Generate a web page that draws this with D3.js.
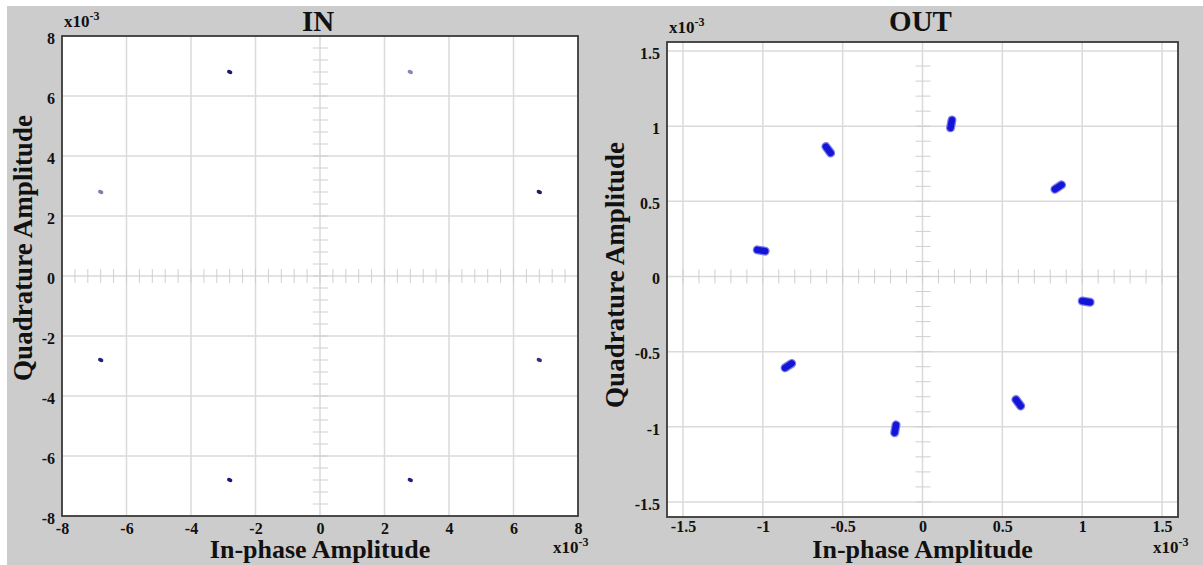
<!DOCTYPE html>
<html>
<head>
<meta charset="utf-8">
<script src="https://cdn.jsdelivr.net/npm/d3@7"></script>
<style>
    body { margin: 0; background: #ffffff; }
    text { font-family: "Liberation Serif", "Times New Roman", serif; font-weight: bold; fill: #111; }
</style>
</head>
<body>
<div id="chart"></div>
<script>
// constellation data, units of 1e-3
var inI = [-2.8, 2.8, -6.8, 6.8, -6.8, 6.8, -2.8, 2.8];
var inQ = [6.8, 6.8, 2.8, 2.8, -2.8, -2.8, -6.8, -6.8];
var inColors = ["#1a1a70", "#8a86b4", "#7f7fb0", "#1a1a70", "#22227a", "#303080", "#1a1a70", "#22227a"];

var outI = [0.18, 0.85, 1.025, 0.6, -0.17, -0.84, -1.01, -0.59];
var outQ = [1.015, 0.595, -0.167, -0.84, -1.013, -0.593, 0.173, 0.843];

var inTicks = [-8, -6, -4, -2, 0, 2, 4, 6, 8];
var outTicks = [-1.5, -1, -0.5, 0, 0.5, 1, 1.5];

var width = 1203, height = 565;

var svg = d3.select("#chart").append("svg")
    .attr("width", width)
    .attr("height", height);

svg.append("rect")
    .attr("x", 7).attr("y", 6)
    .attr("width", width - 7).attr("height", height - 6)
    .attr("fill", "#cccccc");

function drawPanel(cfg) {
    var x = d3.scaleLinear().domain(cfg.xDom).range([cfg.x0, cfg.x1]);
    var y = d3.scaleLinear().domain(cfg.yDom).range([cfg.y1, cfg.y0]);
    var g = svg.append("g");

    g.append("rect")
        .attr("x", cfg.x0).attr("y", cfg.y0)
        .attr("width", cfg.x1 - cfg.x0).attr("height", cfg.y1 - cfg.y0)
        .attr("fill", "white");

    // grid
    var grid = cfg.ticks.filter(function(t) {
        return t > cfg.xDom[0] && t < cfg.xDom[1];
    });
    g.selectAll(".vg").data(grid).enter().append("line")
        .attr("x1", function(d) { return x(d); })
        .attr("x2", function(d) { return x(d); })
        .attr("y1", cfg.y0).attr("y2", cfg.y1)
        .attr("stroke", "#dadada").attr("stroke-width", 1.5);
    var gridY = cfg.ticks.filter(function(t) {
        return t > cfg.yDom[0] && t < cfg.yDom[1];
    });
    g.selectAll(".hg").data(gridY).enter().append("line")
        .attr("y1", function(d) { return y(d); })
        .attr("y2", function(d) { return y(d); })
        .attr("x1", cfg.x0).attr("x2", cfg.x1)
        .attr("stroke", "#dadada").attr("stroke-width", 1.5);

    // minor ticks on the zero axes
    var minorX = d3.range(Math.ceil(cfg.xDom[0] / cfg.minor) + 1, Math.floor(cfg.xDom[1] / cfg.minor))
        .map(function(k) { return k * cfg.minor; });
    var minorY = d3.range(Math.ceil(cfg.yDom[0] / cfg.minor) + 1, Math.floor(cfg.yDom[1] / cfg.minor))
        .map(function(k) { return k * cfg.minor; });
    g.selectAll(".mx").data(minorX).enter().append("line")
        .attr("x1", function(d) { return x(d); })
        .attr("x2", function(d) { return x(d); })
        .attr("y1", y(0) - 7).attr("y2", y(0) + 7)
        .attr("stroke", "#cfcfcf").attr("stroke-width", 1);
    g.selectAll(".my").data(minorY).enter().append("line")
        .attr("y1", function(d) { return y(d); })
        .attr("y2", function(d) { return y(d); })
        .attr("x1", x(0) - 7).attr("x2", x(0) + 8)
        .attr("stroke", "#cfcfcf").attr("stroke-width", 1);

    cfg.marks(g, x, y);

    g.append("rect")
        .attr("x", cfg.x0).attr("y", cfg.y0)
        .attr("width", cfg.x1 - cfg.x0).attr("height", cfg.y1 - cfg.y0)
        .attr("fill", "none")
        .attr("stroke", "#3a3a3a").attr("stroke-width", 1.8);

    // tick labels via axes
    var fmt = function(d) { return String(d); };
    var xAxis = g.append("g")
        .attr("transform", "translate(0," + cfg.y1 + ")")
        .call(d3.axisBottom(x).tickValues(cfg.ticks).tickFormat(fmt).tickSize(0).tickPadding(cfg.xPad));
    var yAxis = g.append("g")
        .attr("transform", "translate(" + cfg.x0 + ",0)")
        .call(d3.axisLeft(y).tickValues(cfg.ticks).tickFormat(fmt).tickSize(0).tickPadding(7));
    [xAxis, yAxis].forEach(function(a) {
        a.select(".domain").remove();
        a.selectAll("text")
            .style("font-family", "'Liberation Serif', serif")
            .style("font-weight", "bold")
            .style("font-size", "16px")
            .attr("fill", "#111");
    });
    yAxis.selectAll("text").attr("dy", "0.45em");

    g.append("text")
        .attr("x", (cfg.x0 + cfg.x1) / 2 - 2)
        .attr("y", 31)
        .attr("text-anchor", "middle")
        .style("font-size", "29px")
        .text(cfg.title);

    g.append("text")
        .attr("x", (cfg.x0 + cfg.x1) / 2)
        .attr("y", 558)
        .attr("text-anchor", "middle")
        .style("font-size", "26px")
        .text("In-phase Amplitude");

    g.append("text")
        .attr("transform", "translate(" + cfg.yTitleX + "," + cfg.yTitleY + ") rotate(-90)")
        .attr("text-anchor", "middle")
        .style("font-size", "27px")
        .text("Quadrature Amplitude");

    function exponent(px, py) {
        var t = g.append("text")
            .attr("x", px).attr("y", py)
            .style("font-size", "17px");
        t.append("tspan").text("x10");
        t.append("tspan").attr("dy", -7).style("font-size", "12px").text("-3");
    }
    exponent(cfg.x0 + 2, cfg.y0 - 9);
    exponent(cfg.x1 - 25, 553);
}

drawPanel({
    title: "IN",
    x0: 62, x1: 578, y0: 36, y1: 516,
    xDom: [-8, 8], yDom: [-8, 8],
    ticks: inTicks, minor: 0.4, xPad: 7,
    yTitleX: 32, yTitleY: 248,
    marks: function(g, x, y) {
        g.selectAll(".pt").data(inI).enter().append("ellipse")
            .attr("cx", function(d) { return x(d); })
            .attr("cy", function(d, i) { return y(inQ[i]); })
            .attr("rx", 2.8).attr("ry", 2)
            .attr("transform", function(d, i) {
                return "rotate(25," + x(d) + "," + y(inQ[i]) + ")";
            })
            .attr("fill", function(d, i) { return inColors[i]; });
    }
});

drawPanel({
    title: "OUT",
    x0: 667, x1: 1178, y0: 42, y1: 517,
    xDom: [-1.6, 1.6], yDom: [-1.6, 1.56],
    ticks: outTicks, minor: 0.1, xPad: 4,
    yTitleX: 624, yTitleY: 275,
    marks: function(g, x, y) {
        var cx = x(0), cy = y(0);
        var seg = function(d, i) {
            var px = x(d), py = y(outQ[i]);
            var a = Math.atan2(py - cy, px - cx);
            return [px - 4 * Math.cos(a), py - 4 * Math.sin(a),
                    px + 4 * Math.cos(a), py + 4 * Math.sin(a)];
        };
        [["#7b7bf0", 9], ["#1414d6", 6.5]].forEach(function(s) {
            g.selectAll(null).data(outI).enter().append("line")
                .attr("x1", function(d, i) { return seg(d, i)[0]; })
                .attr("y1", function(d, i) { return seg(d, i)[1]; })
                .attr("x2", function(d, i) { return seg(d, i)[2]; })
                .attr("y2", function(d, i) { return seg(d, i)[3]; })
                .attr("stroke", s[0])
                .attr("stroke-width", s[1])
                .attr("stroke-linecap", "round");
        });
    }
});
</script>
</body>
</html>
